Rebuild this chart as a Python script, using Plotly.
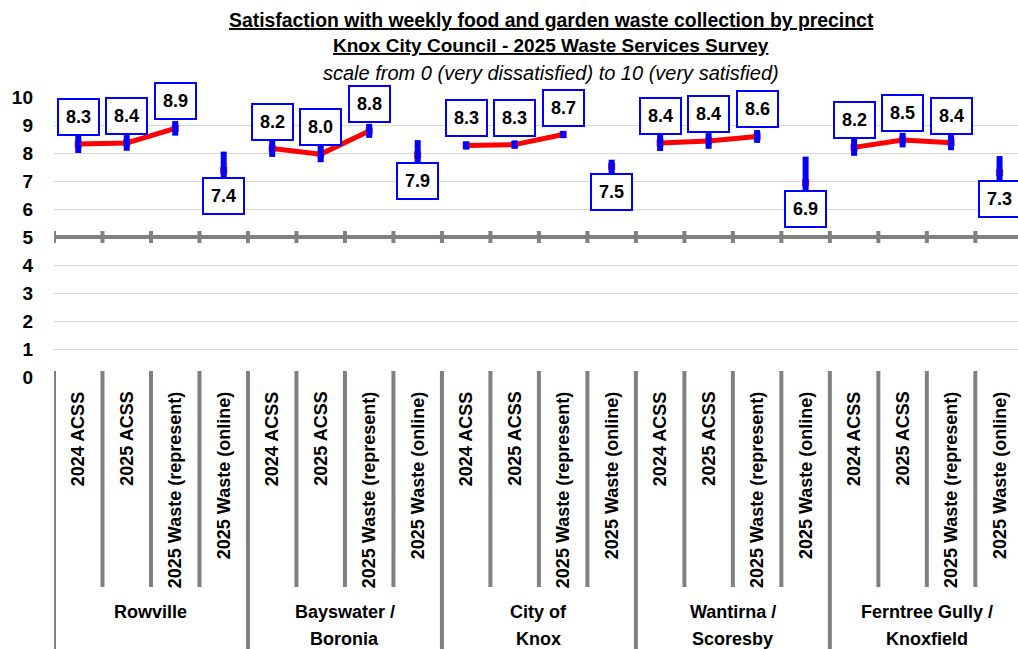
import plotly.graph_objects as go

# precincts and survey series
groups = ["Rowville", "Bayswater /\nBoronia", "City of\nKnox", "Wantirna /\nScoresby", "Ferntree Gully /\nKnoxfield"]
series = ["2024 ACSS", "2025 ACSS", "2025 Waste (represent)", "2025 Waste (online)"]

# mean satisfaction per precinct (in series order)
rowville = [8.32, 8.36, 8.88, 7.38]
bayswater = [8.16, 7.96, 8.79, 7.93]
knox = [8.27, 8.30, 8.66, 7.52]
wantirna = [8.36, 8.43, 8.59, 6.94]
ferntree = [8.20, 8.46, 8.37, 7.30]

# 95% confidence interval half-widths
rowville_ci = [0.32, 0.28, 0.26, 0.67]
bayswater_ci = [0.30, 0.29, 0.25, 0.53]
knox_ci = [0.15, 0.15, 0.13, 0.24]
wantirna_ci = [0.29, 0.28, 0.23, 0.93]
ferntree_ci = [0.30, 0.26, 0.27, 0.59]

means = [rowville, bayswater, knox, wantirna, ferntree]
cis = [rowville_ci, bayswater_ci, knox_ci, wantirna_ci, ferntree_ci]

FONT = "Liberation Sans, Arial, sans-serif"
BLUE = "#0000FF"
RED = "#FF0000"
GREY = "#808080"

# page geometry (pixels)
W, H = 1018, 649
PLOT_L, PLOT_TOP, PLOT_BOT = 54, 97, 377


def py(pix):
    """pixel row -> paper y"""
    return (PLOT_BOT - pix) / (PLOT_BOT - PLOT_TOP)


def px(pix):
    return (pix - PLOT_L) / (W - PLOT_L)


n_ser = len(series)
xs, ys, errs, line_y = [], [], [], []
for g, (vals, ci) in enumerate(zip(means, cis)):
    for s in range(n_ser):
        xs.append(g * n_ser + s)
        ys.append(vals[s])
        errs.append(ci[s])
        # online result is not joined to the trend line
        line_y.append(vals[s] if s < n_ser - 1 else None)

fig = go.Figure()

fig.add_trace(go.Scatter(
    x=xs, y=line_y, mode="lines",
    line=dict(color=RED, width=5),
    connectgaps=False, hoverinfo="skip"
))
fig.add_trace(go.Scatter(
    x=xs, y=ys, mode="markers",
    marker=dict(color=RED, symbol="square", size=7)
))
fig.add_trace(go.Scatter(
    x=xs, y=ys, mode="markers",
    marker=dict(color=BLUE, size=2, opacity=0),
    error_y=dict(type="data", array=errs, color=BLUE, thickness=6, width=0)
))

annotations = []
shapes = []

# data labels
for x, y in zip(xs, ys):
    online = (x % n_ser) == n_ser - 1
    annotations.append(dict(
        x=x, y=y, xref="x", yref="y", text=f"{y:.1f}", showarrow=False,
        yshift=-26 if online else 27,
        font=dict(family=FONT, size=18, color="black", weight="bold"),
        bgcolor="white", bordercolor=BLUE, borderwidth=2, borderpad=7
    ))

# category labels (rotated)
for x in xs:
    annotations.append(dict(
        x=x, y=py(390), xref="x", yref="paper", text=series[x % n_ser],
        showarrow=False, textangle=-90, xanchor="center", yanchor="top",
        font=dict(family=FONT, size=18, color="black", weight="bold")
    ))

# precinct labels
for g, name in enumerate(groups):
    cx = g * n_ser + (n_ser - 1) / 2
    for k, part in enumerate(name.split("\n")):
        annotations.append(dict(
            x=cx, y=py(612 + 27 * k), xref="x", yref="paper", text=part,
            showarrow=False, xanchor="center", yanchor="middle",
            font=dict(family=FONT, size=18, color="black", weight="bold")
        ))

# category axis drawn across at 5, with tick marks
shapes.append(dict(type="line", xref="paper", yref="y", x0=0, x1=1, y0=5, y1=5,
                   line=dict(color=GREY, width=4)))
for b in range(len(xs) + 1):
    bx = b - 0.5
    shapes.append(dict(type="line", xref="x", yref="paper", x0=bx, x1=bx,
                       y0=py(231), y1=py(243), line=dict(color=GREY, width=4)))
    bottom = 649 if b % n_ser == 0 else 587
    shapes.append(dict(type="line", xref="x", yref="paper", x0=bx, x1=bx,
                       y0=py(371), y1=py(bottom), line=dict(color=GREY, width=4)))

# titles
titles = [
    ("<b><u>Satisfaction with weekly food and garden waste collection by precinct</u></b>", 20, 19.4),
    ("<b><u>Knox City Council - 2025 Waste Services Survey</u></b>", 46, 19),
    ("<i>scale from 0 (very dissatisfied) to 10 (very satisfied)</i>", 73, 20),
]
for text, row, size in titles:
    annotations.append(dict(
        x=px(551), y=py(row), xref="paper", yref="paper", text=text,
        showarrow=False, xanchor="center", yanchor="middle",
        font=dict(family=FONT, size=size, color="black")
    ))

fig.update_layout(
    width=W, height=H, autosize=False,
    margin=dict(l=PLOT_L, r=0, t=PLOT_TOP, b=H - PLOT_BOT, pad=0),
    paper_bgcolor="white", plot_bgcolor="white",
    showlegend=False,
    annotations=annotations,
    shapes=shapes,
)
fig.update_xaxes(range=[-0.5, 19.38], showticklabels=False, showgrid=False,
                 zeroline=False, showline=False, ticks="")
fig.update_yaxes(range=[0, 10], tickvals=list(range(0, 11)), showgrid=True,
                 gridcolor="#D9D9D9", gridwidth=1, zeroline=False, showline=False,
                 ticks="", ticklabelstandoff=20,
                 tickfont=dict(family=FONT, size=19, color="black", weight="bold"))

# drop the default body margin so the figure sits at the page corner
fig.write_html("out.html", config={"displayModeBar": False},
               post_script="document.body.style.margin='0';")
